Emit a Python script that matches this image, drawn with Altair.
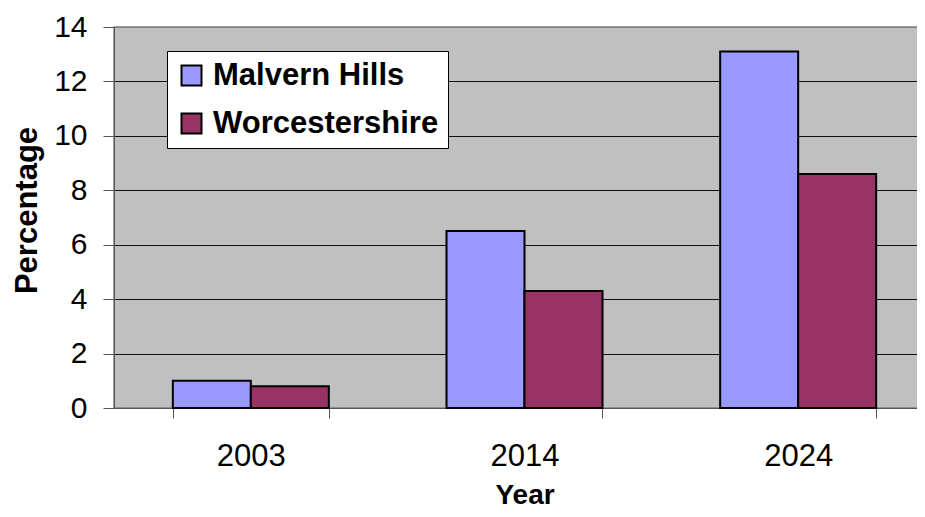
import altair as alt
import pandas as pd

years = ["2003", "2014", "2024"]
series = ["Malvern Hills", "Worcestershire"]
malvern = [1.0, 6.5, 13.1]
worcs = [0.8, 4.3, 8.6]
colors = ["#9999FF", "#993366"]
y_ticks = [0, 2, 4, 6, 8, 10, 12, 14]

rows = []
for i, y in enumerate(years):
    rows.append({"Year": y, "Series": series[0], "Value": malvern[i]})
    rows.append({"Year": y, "Series": series[1], "Value": worcs[i]})
df = pd.DataFrame(rows)

FONT = "Liberation Sans"

chart = alt.Chart(df).mark_bar(stroke="black", strokeWidth=2).encode(
    x=alt.X("Year:N", sort=years,
            scale=alt.Scale(paddingInner=0.43, paddingOuter=0.215),
            axis=alt.Axis(title="Year", labelAngle=0, tickBand="extent", tickSize=10,
                          labelPadding=23, labelFontSize=31, labelFont=FONT, labelColor="black",
                          domainColor="#555555", tickColor="#555555", grid=False,
                          titleFont=FONT, titleFontSize=28, titleFontWeight="bold",
                          titleColor="black", titleBaseline="alphabetic", titleY=95)),
    xOffset=alt.XOffset("Series:N", sort=series,
                        scale=alt.Scale(paddingInner=0, paddingOuter=0)),
    y=alt.Y("Value:Q", scale=alt.Scale(domain=[0, 14], nice=False),
            axis=alt.Axis(title="Percentage", values=y_ticks, tickSize=11, labelPadding=16,
                          labelFontSize=30, labelFont=FONT, labelColor="black",
                          domainColor="#555555", tickColor="#555555",
                          grid=True,
                          gridColor={"condition": {"test": "datum.value === 14", "value": "#808080"},
                                     "value": "#111111"},
                          gridWidth=1,
                          titleFont=FONT, titleFontSize=31, titleFontWeight="bold",
                          titleColor="black", titleBaseline="alphabetic",
                          titleX=-78, titleY=183)),
    fill=alt.Fill("Series:N", sort=series,
                  scale=alt.Scale(domain=series, range=colors),
                  legend=alt.Legend(title=None, orient="none", legendX=53, legendY=24,
                                    fillColor="white", strokeColor="black", padding=9,
                                    symbolType="square", symbolSize=400,
                                    symbolStrokeColor="black", symbolStrokeWidth=2,
                                    labelFont=FONT, labelFontSize=31, labelFontWeight="bold",
                                    labelColor="black", labelOffset=6, rowPadding=16,
                                    labelLimit=400)),
).properties(
    width=821, height=381,
    autosize=alt.AutoSizeParams(type="none"),
    padding={"left": 106, "top": 19, "right": -18, "bottom": 101},
).configure_view(
    fill="#C0C0C0", stroke="#808080", strokeWidth=1.5
)

chart.save("out.html", embed_options={"renderer": "svg", "actions": False})
